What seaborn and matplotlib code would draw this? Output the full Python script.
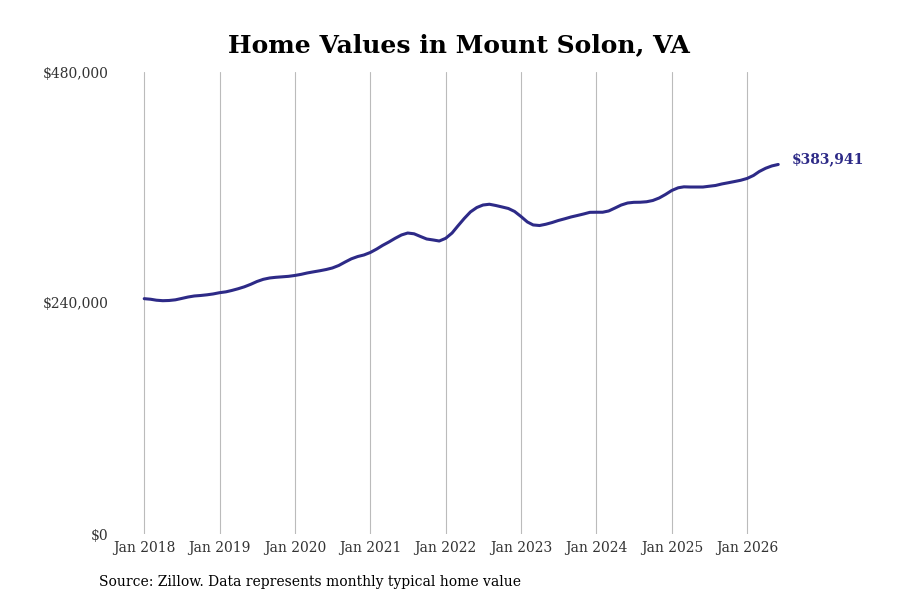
import numpy as np
import pandas as pd
import matplotlib
matplotlib.use("Agg")
import matplotlib.pyplot as plt
import matplotlib.dates as mdates
import matplotlib.ticker as mticker
import seaborn as sns

# monthly typical home value, Jan 2018 - Jun 2026
values = [
    244500, 243900, 242900, 242400, 242600, 243300, 244700, 246200, 247300, 247800, 248500, 249400,
    250700, 251600, 253000, 254800, 256800, 259400, 262300, 264600, 266000, 266700, 267200, 267700,
    268600, 269800, 271200, 272400, 273500, 274800, 276400, 279000, 282600, 285900, 288300, 289900,
    292500, 296100, 299800, 303400, 307200, 310700, 312700, 311900, 309100, 306500, 305500, 304400,
    307200, 312700, 320000, 327800, 334600, 339200, 341800, 342600, 341300, 339800, 338200, 335100,
    329900, 324200, 321100, 320500, 321800, 323600, 325700, 327500, 329400, 330900, 332500, 334200,
    334300, 334300, 335600, 338700, 341800, 343900, 344600, 344700, 345200, 346500, 349100, 352700,
    356900, 359700, 360700, 360500, 360500, 360500, 361300, 362100, 363700, 364900, 366200, 367500,
    369400, 372500, 376600, 380000, 382400, 383941,
]
dates = pd.date_range("2018-01-01", periods=len(values), freq="MS")
df = pd.DataFrame({"date": dates, "value": values})

yticks = [0, 240000, 480000]
xtick_years = list(range(2018, 2027))
end_label = "$383,941"
title = "Home Values in Mount Solon, VA"
source = "Source: Zillow. Data represents monthly typical home value"

line_color = "#2d2a87"

sns.set_style("white")
plt.rcParams["font.family"] = ["DejaVu Serif"]

fig = plt.figure(figsize=(9, 6), dpi=100)
ax = fig.add_axes([0.13, 0.11, 0.759, 0.77])

sns.lineplot(data=df, x="date", y="value", color=line_color, linewidth=2.2, ax=ax)

ax.set_ylim(0, 480000)
ax.set_xlim(pd.Timestamp("2017-08-22"), pd.Timestamp("2026-09-15"))
ax.set_yticks(yticks)
ax.yaxis.set_major_formatter(mticker.FuncFormatter(lambda v, p: f"${v:,.0f}"))
ax.set_xticks([pd.Timestamp(f"{y}-01-01") for y in xtick_years])
ax.xaxis.set_major_formatter(mdates.DateFormatter("Jan %Y"))
ax.tick_params(axis="both", length=0, labelsize=10, labelcolor="#333333")
ax.tick_params(axis="y", pad=6)
ax.tick_params(axis="x", pad=5)
ax.grid(axis="x", color="#bbbbbb", linewidth=0.8)
ax.grid(axis="y", visible=False)
for s in ax.spines.values():
    s.set_visible(False)
ax.set_xlabel("")
ax.set_ylabel("")

ax.annotate(end_label, xy=(df["date"].iloc[-1], df["value"].iloc[-1]),
            xytext=(14, 5), textcoords="offset pixels", va="center", ha="left",
            fontsize=10, fontweight="bold", color=line_color)

ax.set_title(title, fontsize=18, fontweight="bold", pad=14, color="black")
fig.text(99 / 900, 1 - 582 / 600, source, fontsize=10, va="center", ha="left", color="black")

fig.savefig("out.png", dpi=100)
